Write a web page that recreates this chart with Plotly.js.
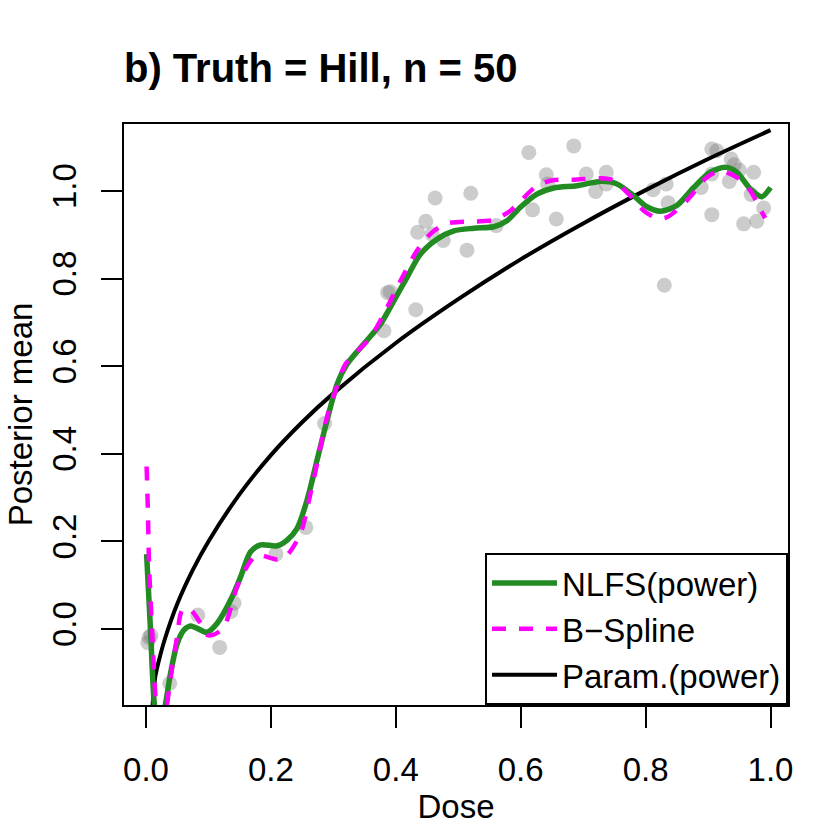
<!DOCTYPE html>
<html>
<head>
<meta charset="utf-8">
<script src="https://cdn.plot.ly/plotly-3.0.1.min.js"></script>
<style>
  body { margin: 0; background: #fff; }
  #chart { width: 830px; height: 830px; }
</style>
</head>
<body>
<div id="chart"></div>
<script>
// observed responses (grey points)
var doseObs = [0.003, 0.005, 0.008, 0.038, 0.083, 0.118, 0.136, 0.141, 0.208, 0.256, 0.286,
    0.381, 0.387, 0.391, 0.432, 0.435, 0.448, 0.458, 0.463, 0.476, 0.514, 0.520, 0.561,
    0.613, 0.619, 0.641, 0.643, 0.657, 0.685, 0.705, 0.720, 0.737, 0.737, 0.812, 0.830,
    0.833, 0.836, 0.889, 0.906, 0.906, 0.906, 0.914, 0.934, 0.937, 0.942, 0.950, 0.957,
    0.969, 0.973, 0.978, 0.989];
var respObs = [-0.031, -0.019, -0.015, -0.124, 0.032, -0.042, 0.040, 0.059, 0.171, 0.232, 0.469,
    0.681, 0.768, 0.770, 0.729, 0.906, 0.931, 0.902, 0.984, 0.887, 0.865, 0.995, 0.921,
    1.088, 0.957, 1.037, 1.016, 0.936, 1.103, 1.039, 0.999, 1.043, 1.016, 1.003, 0.785,
    1.016, 0.973, 1.008, 1.096, 0.946, 1.039, 1.092, 1.022, 1.073, 1.060, 1.048, 0.925,
    0.992, 1.043, 0.931, 0.961];

// NLFS(power) posterior mean
var nlfsDose = [0.001, 0.0075, 0.0128, 0.02, 0.0315, 0.0395, 0.050, 0.061, 0.0715, 0.082, 0.098,
    0.114, 0.1355, 0.1515, 0.1675, 0.1835, 0.210, 0.226, 0.242, 0.258, 0.274, 0.290, 0.306,
    0.322, 0.349, 0.3755, 0.397, 0.418, 0.4395, 0.466, 0.493, 0.525, 0.557, 0.578, 0.5995,
    0.626, 0.653, 0.690, 0.7275, 0.754, 0.781, 0.802, 0.8235, 0.850, 0.877, 0.9035, 0.9275,
    0.946, 0.9675, 0.986, 1.0];
var nlfsMean = [0.171, -0.01, -0.162, -0.25, -0.169, -0.100, -0.033, -0.002, 0.007, 0.0015, -0.0075,
    0.013, 0.066, 0.119, 0.1765, 0.192, 0.190, 0.203, 0.23, 0.2945, 0.386, 0.477, 0.559,
    0.605, 0.651, 0.696, 0.7495, 0.803, 0.856, 0.890, 0.909, 0.915, 0.9185, 0.932, 0.963,
    0.993, 1.007, 1.012, 1.022, 1.016, 0.989, 0.964, 0.954, 0.967, 1.008, 1.043, 1.054,
    1.043, 1.005, 0.987, 1.008];

// B-Spline posterior mean
var bsDose = [0.001, 0.003, 0.005, 0.010, 0.0155, 0.024, 0.034, 0.042, 0.049, 0.058, 0.069,
    0.0875, 0.098, 0.110, 0.125, 0.146, 0.165, 0.178, 0.210, 0.226, 0.2475, 0.2635, 0.274,
    0.290, 0.3035, 0.3195, 0.3595, 0.386, 0.413, 0.434, 0.4555, 0.482, 0.5355, 0.557, 0.5835,
    0.626, 0.653, 0.685, 0.7275, 0.749, 0.7755, 0.797, 0.818, 0.834, 0.866, 0.898, 0.9195,
    0.946, 0.9675, 0.9835, 0.9915];
var bsMean = [0.371, 0.272, 0.142, -0.01, -0.162, -0.27, -0.170, -0.086, -0.025, 0.043, 0.047,
    0.013, -0.0135, -0.012, 0.005, 0.0965, 0.150, 0.169, 0.159, 0.169, 0.2185, 0.310, 0.378,
    0.485, 0.544, 0.605, 0.666, 0.734, 0.810, 0.864, 0.902, 0.926, 0.931, 0.934, 0.955,
    1.012, 1.025, 1.026, 1.029, 1.024, 0.989, 0.955, 0.938, 0.940, 0.978, 1.031, 1.046,
    1.031, 1.001, 0.959, 0.938];

// Param.(power) fit
var paramDose = [0.0105, 0.015, 0.02, 0.03, 0.05, 0.075, 0.1, 0.15, 0.2, 0.25, 0.3, 0.4, 0.5,
    0.6, 0.7, 0.8, 0.9, 1.0];
var paramMean = [-0.175, -0.108, -0.076, -0.024, 0.057, 0.135, 0.200, 0.308, 0.397, 0.472, 0.538,
    0.653, 0.753, 0.844, 0.926, 1.002, 1.073, 1.139];

var tickVals = [0, 0.2, 0.4, 0.6, 0.8, 1.0];

var fontFam = 'Liberation Sans, Arial, Helvetica, sans-serif';

var traces = [
    {
        x: doseObs, y: respObs, type: 'scatter', mode: 'markers',
        marker: { size: 15, color: 'rgba(120,120,120,0.38)' },
        showlegend: false, hoverinfo: 'skip'
    },
    {
        x: paramDose, y: paramMean, type: 'scatter', mode: 'lines', name: 'Param.(power)',
        line: { color: '#000000', width: 4, shape: 'spline', smoothing: 0.8 },
        legendrank: 3
    },
    {
        x: nlfsDose, y: nlfsMean, type: 'scatter', mode: 'lines', name: 'NLFS(power)',
        line: { color: '#228B22', width: 5.5, shape: 'spline', smoothing: 0.8 },
        legendrank: 1
    },
    {
        x: bsDose, y: bsMean, type: 'scatter', mode: 'lines', name: 'B\u2212Spline',
        line: { color: '#FF00FF', width: 4.5, dash: '14px,13px', shape: 'spline', smoothing: 0.8 },
        legendrank: 2
    }
];

var axisCommon = {
    showline: true, mirror: true, linecolor: '#000', linewidth: 2,
    ticks: 'outside', ticklen: 21, tickwidth: 2, tickcolor: '#000',
    showgrid: false, zeroline: false,
    tickvals: tickVals, tickformat: '.1f',
    tickfont: { size: 33, color: '#000' }
};

var layout = {
    width: 830, height: 830,
    margin: { l: 124, r: 42, t: 124, b: 125, pad: 0 },
    paper_bgcolor: '#fff', plot_bgcolor: '#fff',
    font: { family: fontFam, color: '#000' },
    title: {
        text: 'b) Truth = Hill, n = 50',
        font: { size: 40, weight: 'bold', color: '#000' },
        x: 0, xref: 'paper', xanchor: 'left',
        y: 0.918, yref: 'container', yanchor: 'middle'
    },
    xaxis: Object.assign({}, axisCommon, {
        range: [-0.0352, 1.028],
        ticklabelstandoff: 13,
        title: { text: 'Dose', font: { size: 33 }, standoff: 4 }
    }),
    yaxis: Object.assign({}, axisCommon, {
        range: [-0.1735, 1.153],
        tickangle: -90,
        ticklabelstandoff: 12,
        title: { text: 'Posterior mean', font: { size: 33 }, standoff: 3 }
    }),
    legend: {
        x: 1, xanchor: 'right', y: 0, yanchor: 'bottom',
        bordercolor: '#000', borderwidth: 2, bgcolor: '#fff',
        font: { size: 33, color: '#000' },
        itemwidth: 65, tracegroupgap: 0
    }
};

Plotly.newPlot('chart', traces, layout, { staticPlot: true });
</script>
</body>
</html>
